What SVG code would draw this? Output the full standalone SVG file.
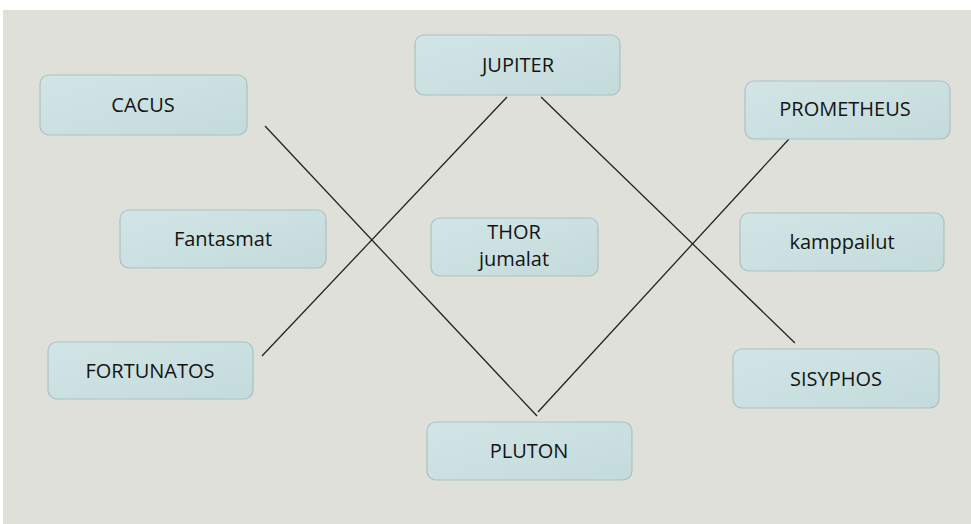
<svg xmlns="http://www.w3.org/2000/svg" width="971" height="524" viewBox="0 0 971 524">
<defs>
<linearGradient id="g" x1="0" y1="0" x2="1" y2="1">
<stop offset="0" stop-color="#d2e5e6"/>
<stop offset="1" stop-color="#c4dbdb"/>
</linearGradient>
<style>
.b{fill:url(#g);stroke:#a8c2c2;stroke-width:1.2}
.t{font-family:"Open Sans","Liberation Sans",sans-serif;font-size:20px;fill:#141414;text-anchor:middle}
.c line{stroke:#222;stroke-width:1.3}
</style>
</defs>
<rect width="971" height="524" fill="#ffffff"/>
<rect x="3" y="10" width="968" height="514" fill="#e0e0da"/>
<g class="c" id="connectors">
<line x1="265" y1="126" x2="537" y2="416"/>
<line x1="538" y1="412" x2="789" y2="139"/>
<line x1="507" y1="97" x2="262" y2="356"/>
<line x1="541" y1="97" x2="795" y2="343"/>
</g>
<g id="cacus"><rect class="b" x="40" y="75" width="207" height="60" rx="9"/><text class="t" x="143" y="112">CACUS</text></g>
<g id="jupiter"><rect class="b" x="415" y="35" width="205" height="60" rx="9"/><text class="t" x="518" y="72">JUPITER</text></g>
<g id="prometheus"><rect class="b" x="745" y="81" width="205" height="58" rx="9"/><text class="t" x="845" y="116">PROMETHEUS</text></g>
<g id="fantasmat"><rect class="b" x="120" y="210" width="206" height="58" rx="9"/><text class="t" x="223" y="246">Fantasmat</text></g>
<g id="thor"><rect class="b" x="431" y="218" width="167" height="58" rx="9"/><text class="t" x="514" y="239">THOR</text><text class="t" x="514" y="266">jumalat</text></g>
<g id="kamppailut"><rect class="b" x="740" y="213" width="204" height="58" rx="9"/><text class="t" x="842" y="249">kamppailut</text></g>
<g id="fortunatos"><rect class="b" x="48" y="342" width="205" height="57" rx="9"/><text class="t" x="150" y="378">FORTUNATOS</text></g>
<g id="sisyphos"><rect class="b" x="733" y="349" width="206" height="59" rx="9"/><text class="t" x="836" y="386">SISYPHOS</text></g>
<g id="pluton"><rect class="b" x="427" y="422" width="205" height="58" rx="9"/><text class="t" x="529" y="458">PLUTON</text></g>
</svg>
